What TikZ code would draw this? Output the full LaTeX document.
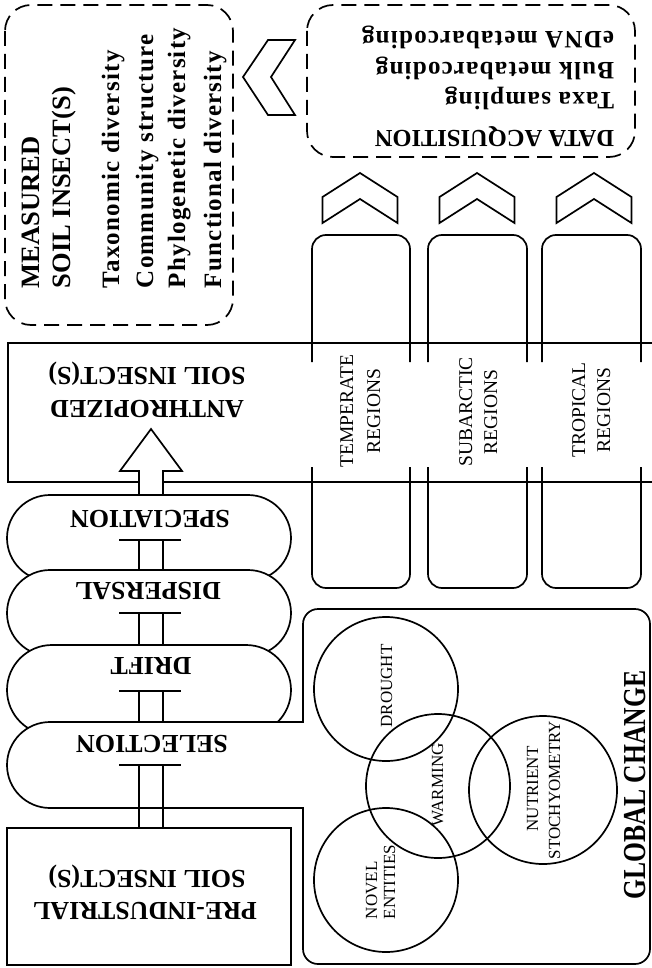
\documentclass[tikz,border=0pt]{standalone}
\usepackage{fontspec}
\setmainfont{Liberation Serif}
\newfontfamily\lsfont[LetterSpace=5]{Liberation Serif}
\newfontfamily\condfont[FakeStretch=0.8]{Liberation Serif}
\begin{document}
\begin{tikzpicture}[x=1pt,y=-1pt,line width=1.7pt,line join=miter,
  capb/.style={font=\fontsize{26}{30}\selectfont\bfseries,inner sep=0pt},
  capm/.style={font=\fontsize{26.5}{30}\selectfont\bfseries,inner sep=0pt},
  lowb/.style={font=\fontsize{25}{30}\selectfont\lsfont\bfseries,inner sep=0pt},
  datat/.style={font=\fontsize{24.5}{30}\selectfont\bfseries,inner sep=0pt},
  reg/.style={font=\fontsize{19.5}{24}\selectfont,inner sep=0pt},
  circt/.style={font=\fontsize{17}{20}\selectfont,inner sep=0pt},
  gct/.style={font=\fontsize{32}{36}\selectfont\condfont\bfseries,inner sep=0pt},
  dashbox/.style={dash pattern=on 15pt off 8pt,rounded corners=26pt},
  colbox/.style={rounded corners=14pt},
  whitefill/.style={fill=white}]
\useasboundingbox (0,0) rectangle (652,968);
\clip (0,0) rectangle (652,968);

% band of anthropized soil insects
\draw (8,343) rectangle (680,482);

% region columns
\foreach \xl/\xr in {312/410,428/527,542/641}{
  \draw[colbox] (\xl,362) -- (\xl,235) -- (\xr,235) -- (\xr,362);
  \draw[colbox] (\xl,467) -- (\xl,588) -- (\xr,588) -- (\xr,467);
}

% dashed boxes
\draw[dashbox] (5,5) rectangle (233,325);
\draw[dashbox] (307,5) rectangle (635,157);

% chevrons
\draw (268,40) -- (243,77) -- (268,115) -- (295,115) -- (271,77) -- (295,40) -- cycle;
\foreach \cx in {360,477,594}{
  \draw (\cx-37.5,197) -- (\cx,173) -- (\cx+37.5,197) -- (\cx+37.5,223) -- (\cx,199) -- (\cx-37.5,223) -- cycle;
}

% big arrow
\draw[whitefill] (139,828) -- (139,471) -- (120,471) -- (151,429) -- (182,471) -- (163,471) -- (163,828);

% pills
\draw[whitefill,rounded corners=43pt] (7,495) rectangle (291,581);
\draw[whitefill,rounded corners=43pt] (7,570) rectangle (291,656);
\draw[whitefill,rounded corners=45pt] (7,645) rectangle (291,735);

% global change box merged with selection pill
\draw[whitefill] (50,722) -- (303,722) -- (303,624) arc[start angle=180,end angle=270,radius=15]
  -- (635,609) arc[start angle=270,end angle=360,radius=15]
  -- (650,949) arc[start angle=0,end angle=90,radius=15]
  -- (318,964) arc[start angle=90,end angle=180,radius=15]
  -- (303,808) -- (50,808) arc[start angle=90,end angle=270,radius=43] -- cycle;

% pre-industrial box
\draw (7,828) rectangle (291,965);

% shaft pieces and bars inside pills
\foreach \b/\yb in {540/570,613/645,691/722,765/808}{
  \draw (139,\yb) -- (139,\b);
  \draw (163,\yb) -- (163,\b);
  \draw (119,\b) -- (181,\b);
}

% circles
\draw (386,689) circle[radius=72];
\draw (438,786) circle[radius=72];
\draw (543,790) circle[radius=74];
\draw (386,880) circle[radius=72];

% measured text
\node[capm,rotate=90,anchor=base west] (m1) at (39,289) {MEASURED};
\node[capm,rotate=90,anchor=base west] (m2) at (70,289) {SOIL INSECT(S)};
\node[lowb,rotate=90,anchor=base west] (m3) at (119,289) {Taxonomic diversity};
\node[lowb,rotate=90,anchor=base west] (m4) at (153,289) {Community structure};
\node[lowb,rotate=90,anchor=base west] (m5) at (185,289) {Phylogenetic diversity};
\node[lowb,rotate=90,anchor=base west] (m6) at (221,289) {Functional diversity};

% data acquisition text
\node[datat,rotate=180,anchor=base west] (d1) at (615,131) {DATA ACQUISITION};
\node[lowb,rotate=180,anchor=base west] (d2) at (615,93) {Taxa sampling};
\node[lowb,rotate=180,anchor=base west] (d3) at (615,63) {Bulk metabarcoding};
\node[lowb,rotate=180,anchor=base west] (d4) at (615,32) {eDNA metabarcoding};

% anthropized
\node[capb,rotate=180,anchor=base] (a1) at (147,400) {ANTHROPIZED};
\node[capb,rotate=180,anchor=base] (a2) at (147,367) {SOIL INSECT(S)};

% pre-industrial
\node[capb,rotate=180,anchor=base] (p1) at (145,902) {PRE-INDUSTRIAL};
\node[capb,rotate=180,anchor=base] (p2) at (147,870) {SOIL INSECT(S)};

% stages
\node[capb,rotate=180,anchor=base] (s1) at (150,510) {SPECIATION};
\node[capb,rotate=180,anchor=base] (s2) at (148,582) {DISPERSAL};
\node[capb,rotate=180,anchor=base] (s3) at (151,657) {DRIFT};
\node[capb,rotate=180,anchor=base] (s4) at (152,735) {SELECTION};

% regions
\node[reg,rotate=90,anchor=base] (r1) at (353,411) {TEMPERATE};
\node[reg,rotate=90,anchor=base] (r2) at (380,411) {REGIONS};
\node[reg,rotate=90,anchor=base] (r3) at (472,412) {SUBARCTIC};
\node[reg,rotate=90,anchor=base] (r4) at (497,412) {REGIONS};
\node[reg,rotate=90,anchor=base] (r5) at (585,410) {TROPICAL};
\node[reg,rotate=90,anchor=base] (r6) at (610,410) {REGIONS};

% circle labels
\node[circt,rotate=90,anchor=base] (c1) at (392,686) {DROUGHT};
\node[circt,rotate=90,anchor=base] (c2) at (443,785) {WARMING};
\node[circt,rotate=90,anchor=base] (c3) at (538,789) {NUTRIENT};
\node[circt,rotate=90,anchor=base] (c4) at (560,790) {STOCHYOMETRY};
\node[circt,rotate=90,anchor=base west] (c5) at (377,920) {NOVEL};
\node[circt,rotate=90,anchor=base west] (c6) at (395,920) {ENTITIES};

% global change
\node[gct,rotate=90,anchor=base west] (g) at (645,900) {GLOBAL CHANGE};
\end{tikzpicture}
\end{document}
